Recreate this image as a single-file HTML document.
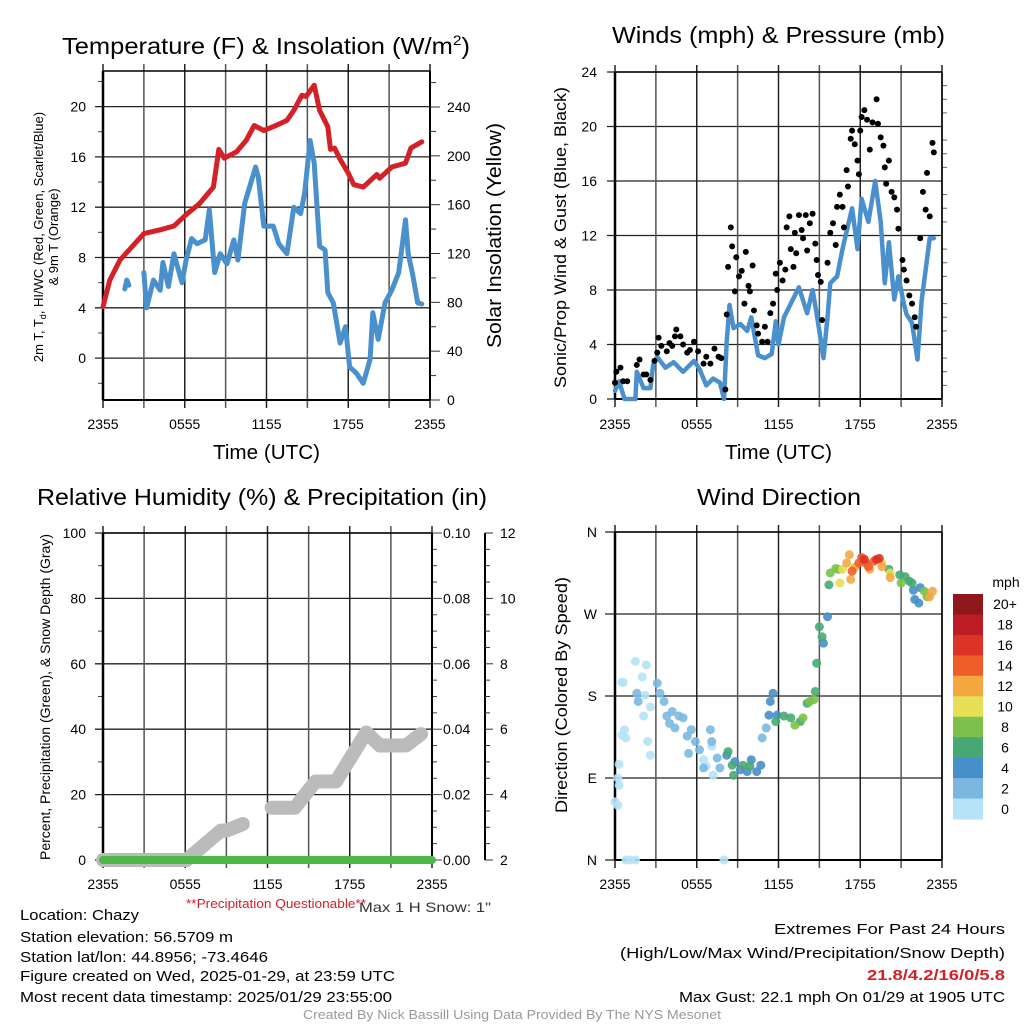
<!DOCTYPE html>
<html><head><meta charset="utf-8">
<style>
html,body{margin:0;padding:0;background:#fff;}
svg{display:block;font-family:"Liberation Sans",Arial,sans-serif;}
</style></head>
<body>
<svg id="fig" width="1024" height="1024" viewBox="0 0 1024 1024" xmlns="http://www.w3.org/2000/svg">
<g id="layer"></g>
<text x="62" y="54" font-size="23" textLength="408" lengthAdjust="spacingAndGlyphs">Temperature (F) &amp; Insolation (W/m<tspan dy="-9" font-size="14">2</tspan><tspan dy="9">)</tspan></text>
<text x="612" y="43" font-size="23" textLength="333" lengthAdjust="spacingAndGlyphs">Winds (mph) &amp; Pressure (mb)</text>
<text x="37" y="505" font-size="23" textLength="450" lengthAdjust="spacingAndGlyphs">Relative Humidity (%) &amp; Precipitation (in)</text>
<text x="697" y="505" font-size="23" textLength="164" lengthAdjust="spacingAndGlyphs">Wind Direction</text>
<text transform="translate(43,237) rotate(-90)" text-anchor="middle" font-size="13">2m T, T<tspan font-size="9" dy="3">d</tspan><tspan dy="-3">, HI/WC (Red, Green, Scarlet/Blue)</tspan></text>
<text transform="translate(58,237) rotate(-90)" text-anchor="middle" font-size="13">&amp; 9m T (Orange)</text>
<text transform="translate(501,348) rotate(-90)" font-size="20" textLength="225" lengthAdjust="spacingAndGlyphs">Solar Insolation (Yellow)</text>
<text transform="translate(566,388) rotate(-90)" font-size="17" textLength="301" lengthAdjust="spacingAndGlyphs">Sonic/Prop Wind &amp; Gust (Blue, Black)</text>
<text transform="translate(50,860) rotate(-90)" font-size="13.5" textLength="326" lengthAdjust="spacingAndGlyphs">Percent, Precipitation (Green), &amp; Snow Depth (Gray)</text>
<text transform="translate(567,813) rotate(-90)" font-size="17" textLength="236" lengthAdjust="spacingAndGlyphs">Direction (Colored By Speed)</text>
<text x="213" y="459" font-size="20" textLength="107" lengthAdjust="spacingAndGlyphs">Time (UTC)</text>
<text x="725" y="459" font-size="20" textLength="107" lengthAdjust="spacingAndGlyphs">Time (UTC)</text>
<text x="186" y="908" font-size="12.5" fill="#d42027" textLength="180" lengthAdjust="spacingAndGlyphs">**Precipitation Questionable**</text>
<text x="359" y="912" font-size="14" fill="#333" textLength="132" lengthAdjust="spacingAndGlyphs">Max 1 H Snow: 1"</text>
<g font-size="15">
<text x="20" y="920" textLength="119" lengthAdjust="spacingAndGlyphs">Location: Chazy</text>
<text x="20" y="942" textLength="213" lengthAdjust="spacingAndGlyphs">Station elevation: 56.5709 m</text>
<text x="20" y="962" textLength="248" lengthAdjust="spacingAndGlyphs">Station lat/lon: 44.8956; -73.4646</text>
<text x="20" y="981" textLength="375" lengthAdjust="spacingAndGlyphs">Figure created on Wed, 2025-01-29, at 23:59 UTC</text>
<text x="20" y="1002" textLength="372" lengthAdjust="spacingAndGlyphs">Most recent data timestamp: 2025/01/29 23:55:00</text>
</g>
<g font-size="15">
<text x="774" y="934" textLength="231" lengthAdjust="spacingAndGlyphs">Extremes For Past 24 Hours</text>
<text x="620" y="958" textLength="385" lengthAdjust="spacingAndGlyphs">(High/Low/Max Wind/Precipitation/Snow Depth)</text>
<text x="867" y="980" fill="#d42027" font-weight="bold" textLength="138" lengthAdjust="spacingAndGlyphs">21.8/4.2/16/0/5.8</text>
<text x="679" y="1002" textLength="326" lengthAdjust="spacingAndGlyphs">Max Gust: 22.1 mph On 01/29 at 1905 UTC</text>
</g>
<text x="303" y="1019" font-size="12.5" fill="#999" textLength="418" lengthAdjust="spacingAndGlyphs">Created By Nick Bassill Using Data Provided By The NYS Mesonet</text>
</svg>
<script>
// ---- Temperature (hours since 2355, degF)
const tempHours=[0,0.5,1.25,2,3,4.2,5.2,6.1,7.1,8.1,8.5,8.9,9.8,10.5,11.1,11.8,12.7,13.5,14,14.6,14.9,15.5,15.9,16.5,16.7,17,17.4,18,18.4,19.1,20.1,20.3,21.2,22.2,22.6,23.4];
const tempVals=[4.1,6.2,7.8,8.7,9.9,10.2,10.5,11.4,12.3,13.6,16.6,15.9,16.4,17.3,18.5,18.1,18.5,18.9,19.7,20.9,20.8,21.7,19.7,18.4,16.6,16.7,15.8,14.7,13.8,13.6,14.6,14.3,15.2,15.5,16.7,17.2];
const dewHoursA=[1.6,1.75,1.9];
const dewValsA=[5.5,6.2,5.8];
const dewHours=[3,3.2,3.7,4.2,4.4,4.8,5.2,5.8,6.1,6.5,6.9,7.5,7.8,8.2,8.6,9.1,9.6,9.9,10.4,11.2,11.4,11.8,12.5,12.9,13.5,14,14.5,14.8,15.2,15.5,15.9,16.3,16.5,16.9,17.4,17.8,18.1,18.6,19.1,19.6,19.8,20.2,20.7,21.2,21.7,22.2,22.4,22.7,23.1,23.4];
const dewVals=[6.8,4.0,6.2,5.4,7.6,5.7,8.3,6.0,7.8,9.5,9.1,9.4,11.8,6.8,8.3,7.5,9.4,7.8,12.3,15.2,14.4,10.5,10.5,9.1,8.3,12.0,11.5,13.1,17.3,15.5,8.9,8.6,5.2,4.4,1.2,2.5,-0.7,-1.2,-2.0,-0.1,3.6,1.5,4.4,5.4,6.8,11.0,8.3,6.8,4.4,4.3];
const tempTicks=[0,4,8,12,16,20];
const solarTicks=[0,40,80,120,160,200,240];
const timeLabels=["2355","0555","1155","1755","2355"];
// ---- Wind
const windHours=[0,0.3,0.7,1.5,1.6,2.1,2.6,2.8,3.1,3.7,4.3,5,5.8,6.2,6.7,7.2,7.7,8,8.2,8.4,8.7,9.2,9.7,10,10.5,11,11.5,11.8,12,12.4,12.9,13.5,14.1,14.5,14.8,15.3,15.6,15.8,16.3,16.7,17,17.4,17.8,18.1,18.6,19.1,19.5,19.8,20.1,20.5,20.8,21.2,21.4,21.8,22.2,22.5,22.8,23.1,23.4];
const windVals=[0.6,1.3,0,0,2,0.8,0.8,2.5,3.1,2.3,2.7,2,2.8,2.2,1,1.5,1.2,0,4.2,6.9,5.2,5.5,5,6,3.2,3,3.3,5.7,4,6,7,8.2,6.3,8,6.3,3,6,8.5,9,11,12.3,14,11,14.7,13,16,13,8.5,11.5,7.3,9,7,6.2,5.6,2.9,7.2,9.5,11.8,11.8];
const gustHours=[0,0.1,0.4,0.6,0.9,1.6,1.8,2.1,2.3,2.6,2.9,3.1,3.2,3.4,3.8,4.0,4.2,4.4,4.5,4.8,5.0,5.3,5.5,5.8,6.1,6.5,6.7,7.0,7.3,7.6,7.8,8.1,8.2,8.3,8.5,8.6,8.8,8.9,9.1,9.3,9.5,9.6,9.8,9.9,10.1,10.2,10.4,10.5,10.8,11,11.2,11.4,11.6,11.8,11.9,12.1,12.3,12.5,12.6,12.8,12.9,13.1,13.2,13.3,13.5,13.7,13.8,14,14.1,14.3,14.5,14.7,14.8,14.9,15.1,15.2,15.6,15.8,16,16.2,16.3,16.5,16.7,16.8,17,17.1,17.3,17.4,17.6,17.8,17.9,18,18.1,18.3,18.5,18.7,18.9,19.2,19.3,19.5,19.7,19.8,19.9,20.1,20.3,20.5,20.7,20.8,21.1,21.2,21.4,21.6,21.8,22,22.1,22.4,22.6,22.8,22.9,23.1,23.3,23.4];
const gustVals=[1.2,2.0,2.3,1.3,1.3,2.5,2.9,1.8,1.8,1.4,2.8,3.4,4.5,3.9,3.5,4.1,3.9,4.6,5.1,4.6,4.0,3.4,3.6,4.2,3.5,2.6,3.1,2.6,3.7,3.1,3.0,0.7,6.2,9.7,12.6,11.2,7.9,10.4,9.0,9.4,7.0,10.8,8.3,7.9,9.8,6.5,5.4,4.8,4.2,5.3,4.2,6.3,7.0,9.2,8.0,10.0,8.7,9.5,12.6,13.4,11.0,9.7,12.2,10.7,13.5,12.4,11.8,13.5,10.9,12.9,13.6,11.4,10.2,9.1,8.6,5.8,10.0,12.2,12.9,11.3,14.1,15.0,14.1,12.6,16.8,15.6,19.1,19.7,18.7,17.5,16.5,19.7,20.7,21.2,20.5,18.3,20.3,22.0,20.2,19.2,18.6,17.0,15.8,17.5,15.2,14.8,13.9,12.5,10.2,9.5,8.7,7.6,7.0,6.0,5.3,11.8,15.2,13.9,16.6,13.4,18.8,18.1];
const windTicks=[0,4,8,12,16,20,24];
// ---- RH / precip / snow
const snowHoursA=[0,6.1,8.6,9.0,10.2];
const snowValsA=[2,2,2.9,2.9,3.1];
const snowHoursB=[12.3,14,15.5,17,19.2,20.2,22.1,23.2];
const snowValsB=[3.6,3.6,4.4,4.4,5.9,5.5,5.5,5.85];
const precipHours=[0,24];
const precipVals=[0,0];
const rhTicks=[0,20,40,60,80,100];
const precipTicks=["0.00","0.02","0.04","0.06","0.08","0.10"];
const snowTicks=[2,4,6,8,10,12];
// ---- Wind direction
const dirHours=[0,0.2,0.2,0.3,0.3,0.5,0.7,0.8,0.5,0.6,0.8,1.1,1.5,1.5,2.3,2.0,2.2,2.1,2.6,2.4,2.6,7.2,8,6.7,7.1,6.5,
1.6,1.7,3.1,3.3,3.6,3.8,4.2,4.0,4.4,4.7,5.0,5.3,5.6,5.9,6.2,6.5,7.0,7.1,5.4,7.7,7.5,10.8,11.1,
8.2,8.8,9.2,9.7,10,10.4,10.7,11.4,11.6,11.3,11.9,15.3,15.6,21.9,22,22.3,22.4,
8.3,8.6,8.7,9.4,9.9,11.8,12.4,12.9,13.6,14.1,14.7,14.8,15,15.2,15.7,20.9,21.3,21.6,21.8,20.1,
13.2,13.8,14.3,14.6,15.8,16.2,16.4,21.0,22.7,22.9,
16.5,16.7,19.6,20.2,
17,17.2,17.3,17.6,18.7,19.6,20.2,23.3,23.1,
17.4,17.9,18.1,18.4,18.6,19.0,
19.2,19.4,18.3];
const dirDeg=[64,60,90,82,105,137,143,134,195,195,0,0,0,218,214,201,181,158,168,130,115,93,0,103,125,110,
183,174,194,183,174,158,163,150,145,158,156,136,143,130,121,101,143,130,117,101,112,134,145,
115,108,99,97,110,97,104,174,183,159,159,238,267,296,286,282,299,
119,104,93,104,103,152,158,156,152,172,185,216,256,245,302,313,311,306,304,319,
148,156,174,176,315,320,319,304,295,289,
304,319,326,315,
326,335,308,321,319,322,310,295,289,
317,326,332,326,322,328,
330,331,330];
const dirSpeed=[1,1,1,1,1,1,1,1,1,1,1,1,1,1,1,1,1,1,1,1,1,1,1,1,1,1,
3,3,3,3,3,3,3,3,3,3,3,3,3,3,3,3,3,3,3,3,3,3,3,
5,5,5,5,5,5,5,5,5,5,5,5,5,5,5,5,5,
7,7,7,7,7,7,7,7,7,7,7,7,7,7,7,7,7,7,7,7,
9,9,9,9,9,9,9,9,9,9,
11,11,11,11,
13,13,13,13,13,13,13,13,13,
15,15,15,15,15,15,
17,17,17];
const dirLabels=["N","E","S","W","N"];
const cbLabels=["20+","18","16","14","12","10","8","6","4","2","0"];
const cbColors=["#8f161b","#bb1c25","#dd3327","#ef5e2a","#f5a742","#e6df57","#7cc24a","#48a873","#478fc8","#7ab8e2","#b5e2f7"];

const NS="http://www.w3.org/2000/svg";
const layer=document.getElementById('layer');
function mk(tag,attrs,parent){const e=document.createElementNS(NS,tag);for(const k in attrs)e.setAttribute(k,attrs[k]);(parent||layer).appendChild(e);return e;}
function txt(x,y,s,anchor,size,parent){const t=mk('text',{x:x,y:y,'text-anchor':anchor,'font-size':size||14},parent);t.textContent=s;return t;}

function makePanel(L,R,T,B,ymin,ymax,name){
  const g=mk('g',{});
  
  
  const X=h=>L+h/24*(R-L);
  const Y=v=>B-(v-ymin)/(ymax-ymin)*(B-T);
  return {g,X,Y,L,R,T,B};
}
function drawTime(p,labelY){
  for(let i=0;i<=8;i++){
    const x=p.X(i*3);
    const l=mk('line',{x1:x,y1:p.T-7,x2:x,y2:p.B+8,stroke:(i%2? '#555':'#222'),'stroke-width':1.5},p.g);
    
    
  }
  timeLabels.forEach((s,i)=>{
    const t=txt(p.X(i*6),labelY,s,'middle',14,p.g);
    
    
  });
}
function hgrid(p,vals,fmt,lx){
  vals.forEach(v=>{
    const y=p.Y(v);
    const l=mk('line',{x1:p.L-8,y1:y,x2:p.R,y2:y,stroke:'#222','stroke-width':1.3},p.g);
    
    
    const t=txt(lx,y+5,fmt(v),'end',14,p.g);
    
    
  });
}
function frame(p,rightAxis){
  mk('line',{x1:p.L,y1:p.T,x2:p.L,y2:p.B,stroke:'#000','stroke-width':2.5},p.g);
  mk('line',{x1:p.L,y1:p.B,x2:p.R,y2:p.B,stroke:'#000','stroke-width':2},p.g);
  mk('line',{x1:p.L,y1:p.T,x2:p.R,y2:p.T,stroke:'#000','stroke-width':1.5},p.g);
  mk('line',{x1:p.R,y1:p.T,x2:p.R,y2:p.B,stroke:'#000','stroke-width':rightAxis?2:1.5},p.g);
}
function path(p,hs,vs,color,w,name){
  let d='';hs.forEach((h,i)=>{d+=(i?'L':'M')+p.X(h).toFixed(1)+','+p.Y(vs[i]).toFixed(1);});
  const e=mk('path',{d:d,fill:'none',stroke:color,'stroke-width':w,'stroke-linejoin':'round','stroke-linecap':'round'},p.g);
  
  
}

// Panel 1
const p1=makePanel(103,430,71,400,-3.33,22.83,'temperature-panel');
for(let v=-2;v<=22;v+=2){if(v%4){mk('line',{x1:p1.L-5,y1:p1.Y(v),x2:p1.L,y2:p1.Y(v),stroke:'#444'},p1.g);}}
hgrid(p1,tempTicks,v=>String(v),86);
drawTime(p1,429);
const sY=v=>400-v/240*(400-107);
for(let v=0;v<=260;v+=20){mk('line',{x1:430,y1:sY(v),x2:v%40?436:440,y2:sY(v),stroke:'#333'},p1.g);}
solarTicks.forEach(v=>{const t=txt(447,sY(v)+5,String(v),'start',14,p1.g);
  
  });
frame(p1,true);
path(p1,dewHoursA,dewValsA,'#4a90cc',5,'dewpoint-line-a');
path(p1,dewHours,dewVals,'#4a90cc',5,'dewpoint-line');
path(p1,tempHours,tempVals,'#d42027',5,'temperature-line');

// Panel 2
const p2=makePanel(615,942,72,399,0,24,'wind-panel');
for(let v=1;v<24;v++){if(v%4){mk('line',{x1:p2.R,y1:p2.Y(v),x2:p2.R+5,y2:p2.Y(v),stroke:'#666'},p2.g);}}
hgrid(p2,windTicks,v=>String(v),597);
drawTime(p2,429);
frame(p2,false);
path(p2,windHours,windVals,'#4a90cc',4.5,'wind-speed-line');
gustHours.forEach((h,i)=>{
  const c=mk('circle',{cx:p2.X(h),cy:p2.Y(gustVals[i]),r:3,fill:'#000'},p2.g);
  
  
});

// Panel 3
const p3=makePanel(103,432,533,860,0,100,'humidity-panel');
for(let v=10;v<100;v+=20){mk('line',{x1:p3.L-5,y1:p3.Y(v),x2:p3.L,y2:p3.Y(v),stroke:'#444'},p3.g);}
hgrid(p3,rhTicks,v=>String(v),86);
drawTime(p3,889);
for(let v=0;v<=100;v+=5){mk('line',{x1:p3.R,y1:p3.Y(v),x2:p3.R+(v%20?5:10),y2:p3.Y(v),stroke:'#444'},p3.g);}
precipTicks.forEach((s,i)=>{const t=txt(443,p3.Y(i*20)+5,s,'start',14,p3.g);
  
  });
mk('line',{x1:485,y1:p3.T,x2:485,y2:p3.B,stroke:'#000','stroke-width':2},p3.g);
const snY=v=>p3.Y((v-2)*10);
for(let v=2;v<=12;v+=0.5){mk('line',{x1:485,y1:snY(v),x2:485+(v%2?5:8),y2:snY(v),stroke:'#333'},p3.g);}
snowTicks.forEach(v=>{const t=txt(500,snY(v)+5,String(v),'start',14,p3.g);
  
  });
frame(p3,true);
function snowPath(hs,vs,name){path(p3,hs,vs.map(v=>(v-2)*10),'#bbbbbb',14,name);}
snowPath(snowHoursA,snowValsA,'snow-depth-line-a');
snowPath(snowHoursB,snowValsB,'snow-depth-line-b');
path(p3,precipHours,precipVals.map(v=>v*1000),'#4db848',8,'precipitation-line');

// Panel 4
const p4=makePanel(615,942,532,860,0,360,'direction-panel');
dirLabels.forEach((s,i)=>{
  const y=p4.Y(i*90);
  mk('line',{x1:p4.L-10,y1:y,x2:p4.R,y2:y,stroke:'#222','stroke-width':1.3},p4.g);
  const t=txt(597,y+5,s,'end',14,p4.g);
  
  
});
drawTime(p4,889);
frame(p4,false);
function spColor(s){const i=Math.min(10,Math.floor(s/2));return cbColors[10-i];}
dirHours.forEach((h,i)=>{
  const c=mk('circle',{cx:p4.X(h),cy:p4.Y(dirDeg[i]),r:4.5,fill:spColor(dirSpeed[i]),'fill-opacity':0.9},p4.g);
  
  
});
const cb=mk('g',{});


const cbH=225/11;
cbColors.forEach((c,i)=>{
  mk('rect',{x:953,y:594+i*cbH,width:30,height:cbH+0.5,fill:c},cb);
  const t=txt(1005,594+i*cbH+cbH/2+5,cbLabels[i],'middle',14,cb);
  
  
});
txt(1006,587,'mph','middle',14,cb);
</script>
</body></html>
